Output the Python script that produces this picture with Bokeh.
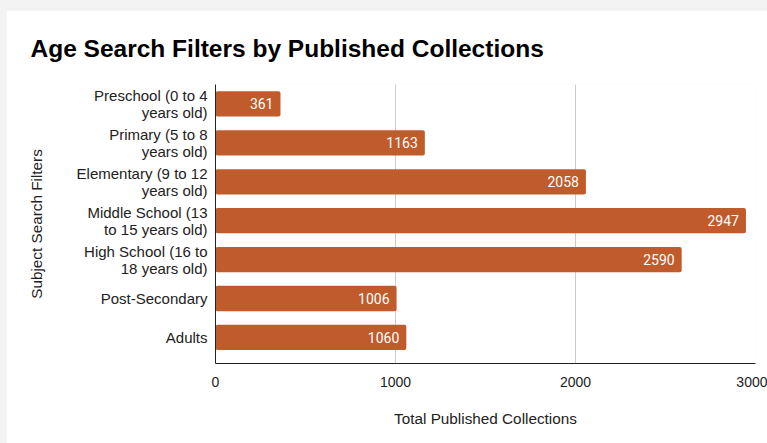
from bokeh.plotting import figure
from bokeh.models import ColumnDataSource, Range1d, FixedTicker, LabelSet
from bokeh.core.properties import value
from bokeh.layouts import column
from bokeh.embed import file_html
from bokeh.resources import INLINE

categories = [
    "Preschool (0 to 4\nyears old)",
    "Primary (5 to 8\nyears old)",
    "Elementary (9 to 12\nyears old)",
    "Middle School (13\nto 15 years old)",
    "High School (16 to\n18 years old)",
    "Post-Secondary",
    "Adults",
]
values = [361, 1163, 2058, 2947, 2590, 1006, 1060]
x_ticks = [0, 1000, 2000, 3000]

pos = list(range(len(categories)))
src = ColumnDataSource(dict(y=pos, v=values, lbl=[str(v) for v in values]))

BAR = "#c05b2c"

p = figure(width=761, height=433, output_backend="svg", toolbar_location=None,
           x_range=Range1d(0, 3000), y_range=Range1d(6.67, -0.5),
           min_border_left=209, min_border_right=12, min_border_top=74, min_border_bottom=80,
           background_fill_color="white", border_fill_color="white", outline_line_color=None)
p.margin = (10, 0, 0, 6)

p.hbar(y="y", right="v", left=0, height=0.65, source=src, fill_color=BAR, line_color=None,
       border_radius=2)

labels = LabelSet(x="v", y="y", text="lbl", source=src, text_align="right", text_baseline="middle",
                  x_offset=-7, text_color="white", text_font=value("Roboto"),
                  text_font_size="14px")
p.add_layout(labels)

p.title.text = "Age Search Filters by Published Collections"
p.title.text_font = "Liberation Sans"
p.title.text_font_size = "24.5px"
p.title.text_font_style = "bold"
p.title.text_color = "#000000"
p.title.align = "left"
p.title.vertical_align = "middle"
p.title.offset = -185
p.title.standoff = 44

p.xaxis.ticker = FixedTicker(ticks=x_ticks)
p.xaxis.axis_label = "Total Published Collections"
p.yaxis.axis_label = "Subject Search Filters"
p.yaxis.ticker = FixedTicker(ticks=pos)
p.yaxis.major_label_overrides = {i: c for i, c in enumerate(categories)}

for ax in (p.xaxis[0], p.yaxis[0]):
    ax.major_tick_line_color = None
    ax.minor_tick_line_color = None
    ax.axis_line_color = "#222222"
    ax.axis_line_width = 1
    ax.major_label_text_font = "Liberation Sans"
    ax.major_label_text_font_size = "14px"
    ax.major_label_text_color = "#222222"
    ax.axis_label_text_font = "Liberation Sans"
    ax.axis_label_text_font_size = "15.3px"
    ax.axis_label_text_font_style = "normal"
    ax.axis_label_text_color = "#222222"

p.yaxis.major_label_text_font_size = "15px"
p.yaxis.major_label_text_line_height = 1.0
p.xaxis.major_label_standoff = 7
p.xaxis.axis_label_standoff = 20
p.yaxis.major_label_standoff = 2
p.yaxis.axis_label_standoff = 29

p.xgrid.grid_line_color = "#cccccc"
p.ygrid.grid_line_color = None

layout = column(p, width=767, height=443, styles={"background-color": "#f3f3f3"})

open("out.html", "w").write(file_html(layout, INLINE))
